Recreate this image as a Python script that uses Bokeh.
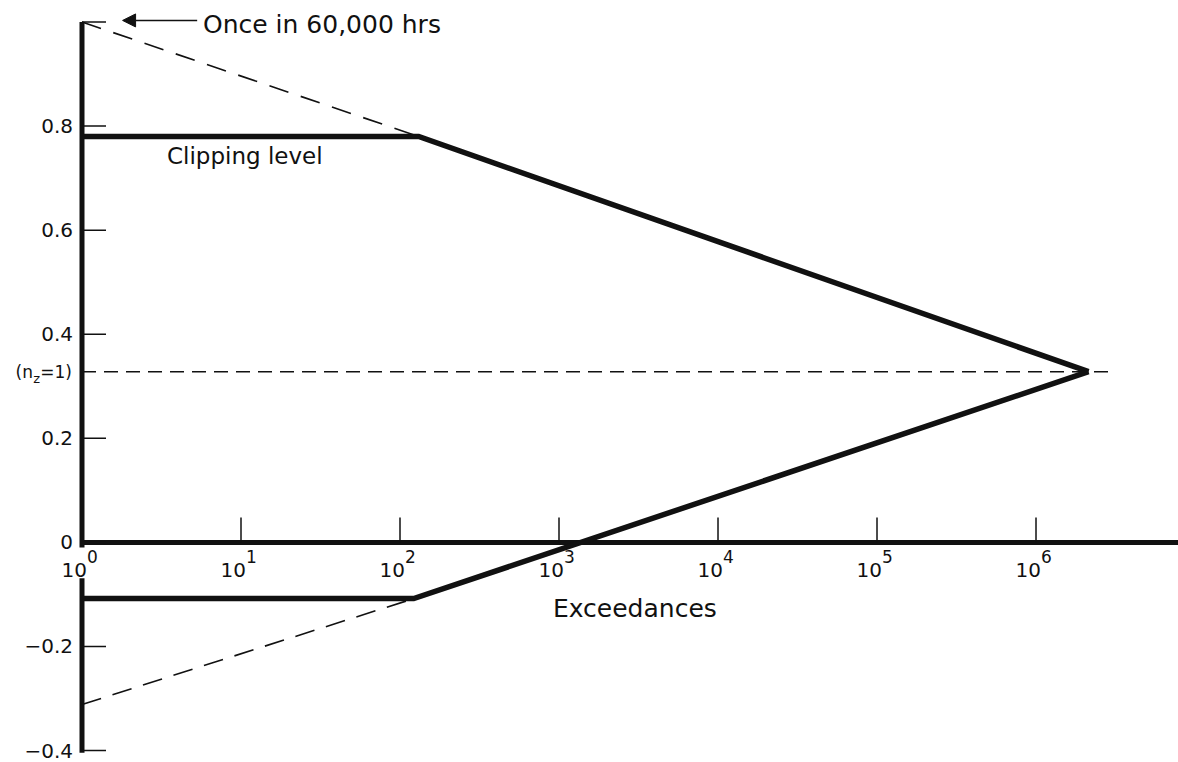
import numpy as np
from bokeh.plotting import figure
from bokeh.models import Range1d, Arrow, NormalHead
from bokeh.core.properties import value
from bokeh.embed import file_html
from bokeh.resources import INLINE

# ---- data ----
x_ticks = [1, 10, 100, 1000, 10000, 100000, 1000000]
x_tick_base = ["10", "10", "10", "10", "10", "10", "10"]
x_tick_exponents = ["0", "1", "2", "3", "4", "5", "6"]
y_ticks = [-0.4, -0.2, 0.0, 0.2, 0.4, 0.6, 0.8, 1.0]
y_tick_labels = ["\u22120.4", "\u22120.2", "0", "0.2", "0.4", "0.6", "0.8", ""]

# solid envelope (clipped)
upper_x = [1, 131, 2.14e6]
upper_y = [0.78, 0.78, 0.328]
lower_x = [1, 122, 2.14e6]
lower_y = [-0.108, -0.108, 0.328]
# dashed extrapolation beyond clipping level
upper_ext_x = [1, 131]
upper_ext_y = [1.0, 0.78]
lower_ext_x = [1, 122]
lower_ext_y = [-0.3115, -0.108]
# n_z = 1 reference level
nz1_x = [1, 3.08e6]
nz1_y = [0.328, 0.328]
nz1_level = 0.328
clip_level = 0.78
top_level = 1.0

FONT = value("DejaVu Sans")
INK = "#111111"

x_lo, x_hi = 10 ** -0.5126, 10 ** 6.8962
y_lo, y_hi = -0.4229, 1.0413

p = figure(width=1178, height=762, x_axis_type="log",
           x_axis_location=None, y_axis_location=None,
           x_range=Range1d(x_lo, x_hi), y_range=Range1d(y_lo, y_hi),
           output_backend="svg", toolbar_location=None, min_border=0)
p.outline_line_color = None
p.xgrid.visible = False
p.ygrid.visible = False
p.background_fill_color = "white"
p.border_fill_color = "white"

# ---- axes drawn at x = 10^0 and y = 0 ----
p.line([1, x_hi], [0, 0], line_width=5, color=INK)
p.multi_line([[1, 1], [1, 1]], [[1.0, -0.01], [-0.069, -0.404]],
             line_width=5, color=INK)

# ticks pointing into the plot
p.ray(x=x_ticks[1:], y=[0] * (len(x_ticks) - 1), length=25, length_units="screen",
      angle=np.pi / 2, line_width=1.5, color=INK)
p.ray(x=[1] * len(y_ticks), y=y_ticks, length=24, length_units="screen",
      angle=0, line_width=1.5, color=INK)

# x tick labels 10^n
p.text(x=x_ticks, y=[0] * len(x_ticks), text=x_tick_base, text_align="right",
       text_baseline="middle", x_offset=5, y_offset=28, text_font=FONT,
       text_font_size="20px", text_color=INK)
p.text(x=x_ticks, y=[0] * len(x_ticks), text=x_tick_exponents, text_align="left",
       text_baseline="middle", x_offset=5, y_offset=14, text_font=FONT,
       text_font_size="17px", text_color=INK)

# y tick labels
p.text(x=[1] * len(y_ticks), y=y_ticks, text=y_tick_labels, text_align="right",
       text_baseline="middle", x_offset=-9, y_offset=0, text_font=FONT,
       text_font_size="20px", text_color=INK)

# (n_z = 1) label
p.text(x=[1], y=[nz1_level], text=["=1)"], text_align="right", text_baseline="middle",
       x_offset=-10, text_font=FONT, text_font_size="17px", text_color=INK)
p.text(x=[1], y=[nz1_level], text=["z"], text_align="right", text_baseline="middle",
       x_offset=-42, y_offset=7, text_font=FONT, text_font_size="13px", text_color=INK)
p.text(x=[1], y=[nz1_level], text=["(n"], text_align="right", text_baseline="middle",
       x_offset=-49, text_font=FONT, text_font_size="17px", text_color=INK)

# ---- curves ----
p.line(nz1_x, nz1_y, line_width=1.6, line_dash="14 8", color=INK)
p.line(upper_ext_x, upper_ext_y, line_width=1.6, line_dash="20 13", color=INK)
p.line(lower_ext_x, lower_ext_y, line_width=1.6, line_dash="20 12", color=INK)
p.line(upper_x, upper_y, line_width=5.5, color=INK, line_join="miter")
p.line(lower_x, lower_y, line_width=5.5, color=INK, line_join="miter")

# ---- annotations ----
p.text(x=[1], y=[clip_level], text=["Clipping level"], text_align="left",
       text_baseline="middle", x_offset=85, y_offset=20, text_font=FONT,
       text_font_size="23px", text_color=INK)
p.text(x=[3000], y=[-0.127], text=["Exceedances"], text_align="center",
       text_baseline="middle", text_font=FONT, text_font_size="25px", text_color=INK)
p.text(x=[1], y=[top_level], text=["Once in 60,000 hrs"], text_align="left",
       text_baseline="middle", x_offset=121, y_offset=3, text_font=FONT,
       text_font_size="25px", text_color=INK)
p.add_layout(Arrow(end=NormalHead(size=13, fill_color=INK, line_color=INK),
                   x_start=5.3, y_start=1.003, x_end=1.8, y_end=1.003,
                   line_width=1.5, line_color=INK))

open("out.html", "w").write(file_html(p, INLINE))
